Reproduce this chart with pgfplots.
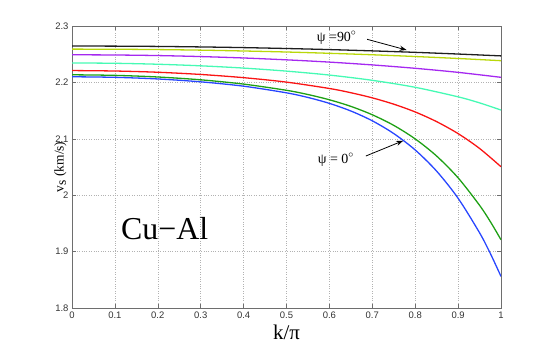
\documentclass[border=0pt]{standalone}
\usepackage{fontspec}
\setmainfont{Liberation Serif}
\newfontfamily\tickfont{Liberation Sans}
\usepackage{pgfplots}
\pgfplotsset{compat=1.18}
\usetikzlibrary{arrows.meta}
\definecolor{cblack}{RGB}{30,30,30}
\definecolor{cyell}{RGB}{185,215,10}
\definecolor{cpurp}{RGB}{165,40,240}
\definecolor{caqua}{RGB}{70,250,180}
\definecolor{cred}{RGB}{250,20,20}
\definecolor{cgreen}{RGB}{30,160,20}
\definecolor{cblue}{RGB}{40,70,255}
\definecolor{axgray}{RGB}{110,110,110}
\begin{document}
\begin{tikzpicture}
\path[use as bounding box] (0,0) rectangle (554bp,347bp);
\begin{axis}[
  at={(72bp,39bp)}, anchor=south west,
  width=429bp, height=282bp, scale only axis,
  xmin=0, xmax=1, ymin=1.8, ymax=2.3,
  xtick={0,0.1,...,1}, ytick={1.8,1.9,2,2.1,2.2,2.3},
  xticklabels={0,0.1,0.2,0.3,0.4,0.5,0.6,0.7,0.8,0.9,1},
  yticklabels={1.8,1.9,2,2.1,2.2,2.3},
  /pgf/number format/assume math mode=true,
  tick label style={font=\tickfont\fontsize{9.5}{10}\selectfont, text=black!80},
  tick align=inside, major tick length=4bp,
  axis line style={axgray, line width=0.9pt},
  every tick/.style={axgray, line width=0.6pt},
  grid=major,
  major grid style={dotted, black!30, line width=0.5pt},
  xlabel={\fontsize{21}{24}\selectfont k/π},
  xlabel style={yshift=0bp},
  ylabel={\fontsize{13.5}{15}\selectfont v$_{\textrm{s}}$ (km/s)},
  ylabel style={yshift=-18bp},
  clip=true,
]
\addplot[cblack, line width=1.3pt, smooth] coordinates {(0,2.2645)(0.1,2.2643)(0.2,2.2638)(0.3,2.2629)(0.4,2.2617)(0.5,2.2601)(0.6,2.2582)(0.7,2.2559)(0.8,2.2533)(0.9,2.2503)(1.0,2.2470)};
\addplot[cyell, line width=1.3pt, smooth] coordinates {(0,2.2590)(0.1,2.2588)(0.2,2.2582)(0.3,2.2572)(0.4,2.2557)(0.5,2.2539)(0.6,2.2516)(0.7,2.2490)(0.8,2.2459)(0.9,2.2424)(1.0,2.2385)};
\addplot[cpurp, line width=1.3pt, smooth] coordinates {(0,2.2490)(0.1,2.2486)(0.2,2.2476)(0.3,2.2458)(0.4,2.2433)(0.5,2.2400)(0.6,2.2360)(0.7,2.2310)(0.8,2.2250)(0.9,2.2178)(1.0,2.2090)};
\addplot[caqua, line width=1.3pt, smooth] coordinates {(0,2.2345)(0.1,2.2339)(0.2,2.2322)(0.3,2.2294)(0.4,2.2254)(0.5,2.2200)(0.6,2.2130)(0.7,2.2037)(0.8,2.1913)(0.9,2.1744)(0.95,2.1637)(1.0,2.151)};
\addplot[cred, line width=1.3pt, smooth] coordinates {(0,2.221)(0.1,2.2202)(0.2,2.2180)(0.3,2.2141)(0.4,2.2084)(0.5,2.2005)(0.6,2.1892)(0.65,2.1817)(0.7,2.1726)(0.75,2.1614)(0.8,2.1476)(0.85,2.1304)(0.9,2.1092)(0.95,2.0829)(1.0,2.0505)};
\addplot[cgreen, line width=1.3pt, smooth] coordinates {(0,2.2135)(0.1,2.2125)(0.2,2.2096)(0.3,2.2046)(0.4,2.1970)(0.5,2.1860)(0.55,2.1785)(0.6,2.1692)(0.65,2.1575)(0.7,2.1426)(0.75,2.1238)(0.8,2.0998)(0.85,2.0694)(0.9,2.0308)(0.95,1.9821)(0.975,1.9533)(1.0,1.921)};
\addplot[cblue, line width=1.3pt, smooth] coordinates {(0,2.210)(0.1,2.2090)(0.2,2.2061)(0.3,2.2010)(0.4,2.1933)(0.5,2.1815)(0.55,2.1733)(0.6,2.1628)(0.65,2.1493)(0.7,2.1319)(0.75,2.1093)(0.8,2.0802)(0.85,2.0426)(0.9,1.9946)(0.95,1.9334)(0.975,1.8969)(1.0,1.856)};
\draw[-{Stealth[length=7bp,width=5bp]}, black, line width=0.8pt] (axis cs:0.688,2.2764) -- (axis cs:0.780,2.2574);
\draw[-{Stealth[length=7bp,width=5bp]}, black, line width=0.8pt] (axis cs:0.685,2.0695) -- (axis cs:0.772,2.0966);
\node[font=\fontsize{14}{16}\selectfont] at (axis cs:0.617,2.279) {ψ =90$^{\circ}$};
\node[font=\fontsize{14}{16}\selectfont] at (axis cs:0.615,2.063) {ψ = 0$^{\circ}$};
\node[font=\fontsize{32}{36}\selectfont] at (axis cs:0.216,1.941) {Cu−Al};
\end{axis}
\end{tikzpicture}
\end{document}
